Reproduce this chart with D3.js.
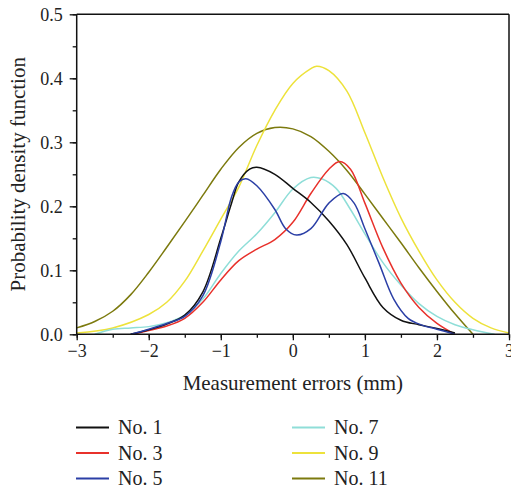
<!DOCTYPE html>
<html><head><meta charset="utf-8">
<script src="https://cdn.jsdelivr.net/npm/d3@7/dist/d3.min.js"></script>
<style>
html,body{margin:0;padding:0;background:#fff;}
svg{display:block;font-family:"Liberation Serif","Times New Roman",serif;}
</style></head>
<body>
<svg id="chart" width="511" height="490"></svg>
<script>
// ---- data ----
const seriesNames = ["No. 1", "No. 3", "No. 5", "No. 7", "No. 9", "No. 11"];
const seriesColors = ["#111111", "#e8312b", "#2b3fa6", "#8fded8", "#ede23b", "#7c7a0e"];

const no1X = [-2.25,-2.0,-1.75,-1.5,-1.25,-1.0,-0.85,-0.75,-0.6,-0.5,-0.25,0,0.25,0.5,0.75,1.0,1.25,1.5,1.75,2.0,2.25];
const no1Y = [0.0,0.007,0.016,0.03,0.066,0.15,0.205,0.238,0.258,0.261,0.25,0.228,0.206,0.177,0.14,0.088,0.042,0.022,0.015,0.009,0.002];

const no3X = [-2.22,-2.0,-1.75,-1.5,-1.25,-1.0,-0.75,-0.5,-0.25,0,0.25,0.5,0.65,0.8,1.0,1.25,1.5,1.75,2.0,2.25];
const no3Y = [0.0,0.006,0.013,0.025,0.05,0.085,0.115,0.133,0.148,0.175,0.22,0.258,0.27,0.258,0.205,0.135,0.08,0.042,0.017,0.0];

const no5X = [-2.25,-2.0,-1.75,-1.5,-1.25,-1.0,-0.85,-0.75,-0.65,-0.5,-0.25,-0.1,0.05,0.25,0.5,0.7,0.85,1.0,1.2,1.4,1.6,1.8,2.0,2.25];
const no5Y = [0.0,0.008,0.017,0.028,0.06,0.145,0.215,0.238,0.243,0.232,0.195,0.165,0.155,0.165,0.205,0.22,0.205,0.165,0.11,0.055,0.025,0.014,0.008,0.0];

const no7X = [-2.75,-2.5,-2.25,-2.0,-1.75,-1.5,-1.25,-1.0,-0.75,-0.5,-0.25,0,0.25,0.4,0.6,0.8,1.0,1.25,1.5,1.75,2.0,2.25,2.5,2.8];
const no7Y = [0.0,0.008,0.01,0.012,0.018,0.03,0.055,0.095,0.13,0.157,0.19,0.227,0.245,0.243,0.228,0.195,0.157,0.112,0.077,0.048,0.028,0.015,0.007,0.0];

const no9X = [-3.0,-2.5,-2.0,-1.75,-1.5,-1.25,-1.0,-0.75,-0.5,-0.25,0,0.25,0.33,0.5,0.75,1.0,1.25,1.5,1.75,2.0,2.25,2.5,2.75,3.0];
const no9Y = [0.002,0.01,0.031,0.05,0.083,0.13,0.18,0.23,0.295,0.35,0.392,0.415,0.419,0.412,0.38,0.315,0.245,0.182,0.13,0.085,0.05,0.025,0.01,0.002];

const no11X = [-3.0,-2.75,-2.5,-2.25,-2.0,-1.75,-1.5,-1.25,-1.0,-0.75,-0.5,-0.25,0,0.25,0.5,0.75,1.0,1.25,1.5,1.75,2.0,2.25,2.5];
const no11Y = [0.010,0.02,0.036,0.062,0.097,0.136,0.176,0.217,0.258,0.292,0.314,0.323,0.321,0.309,0.286,0.256,0.219,0.181,0.143,0.104,0.067,0.032,0.0];

const xTicks = [-3,-2,-1,0,1,2,3];
const yTicks = [0.0,0.1,0.2,0.3,0.4,0.5];
const xTitle = "Measurement errors (mm)";
const yTitle = "Probability density function";

// ---- layout ----
const svg = d3.select("#chart");
const L = 76.7, R = 509, T = 14.3, B = 334.3;
const x = d3.scaleLinear().domain([-3,3]).range([L,R]);
const y = d3.scaleLinear().domain([0,0.5]).range([B,T]);

const seriesX = [no1X,no3X,no5X,no7X,no9X,no11X];
const seriesY = [no1Y,no3Y,no5Y,no7Y,no9Y,no11Y];
const series = seriesNames.map((n,i)=>({name:n,color:seriesColors[i],
  pts: seriesX[i].map((v,j)=>[v, seriesY[i][j]])}));

const line = d3.line().x(d=>x(d[0])).y(d=>Math.min(y(d[1]), B)).curve(d3.curveCatmullRom.alpha(0.5));

svg.append("defs").append("clipPath").attr("id","plotclip")
  .append("rect").attr("x",L).attr("y",T).attr("width",R-L).attr("height",B-T+0.5);

// draw order: olive, yellow, cyan, red, black, blue
const order = [5,4,3,1,0,2];
svg.append("g").attr("clip-path","url(#plotclip)").selectAll("path").data(order.map(i=>series[i])).join("path")
  .attr("d", d=>line(d.pts)).attr("fill","none")
  .attr("stroke", d=>d.color).attr("stroke-width",1.5);

const fmtX = d => d < 0 ? "\u2212" + Math.abs(d) : String(d);

// x axis
const gx = svg.append("g").attr("transform",`translate(0,${B})`)
  .call(d3.axisBottom(x).tickValues(d3.range(-3,3.01,0.5)).tickSize(3.5).tickFormat(""));
gx.append("g").call(d3.axisBottom(x).tickValues(xTicks).tickSize(6).tickPadding(4).tickFormat(fmtX));
// y axis
const gy = svg.append("g").attr("transform",`translate(${L},0)`)
  .call(d3.axisLeft(y).tickValues(d3.range(0,0.501,0.05)).tickSize(4).tickFormat(""));
gy.append("g").call(d3.axisLeft(y).tickValues(yTicks).tickSize(7).tickPadding(7).tickFormat(d3.format(".1f")));

svg.selectAll(".domain").remove();
svg.selectAll(".tick line").attr("stroke","#111").attr("stroke-width",1.3);
svg.selectAll(".tick text").attr("font-family","Liberation Serif, serif").attr("font-size",18).attr("fill","#222");
gx.selectAll(".tick text").attr("dy","0.71em");

// frame
const frame = svg.append("g").attr("stroke","#111").attr("stroke-width",1.5).attr("fill","none");
frame.append("line").attr("x1",L).attr("x2",L).attr("y1",T).attr("y2",B);
frame.append("line").attr("x1",L).attr("x2",R).attr("y1",B).attr("y2",B);
frame.append("line").attr("x1",L).attr("x2",R).attr("y1",T).attr("y2",T);
frame.append("line").attr("x1",R).attr("x2",R).attr("y1",T).attr("y2",B);

// titles
svg.append("text").attr("x",(L+R)/2).attr("y",390).attr("text-anchor","middle")
  .attr("font-size",21).attr("fill","#222").text(xTitle);
svg.append("text").attr("transform",`translate(25,${(T+B)/2}) rotate(-90)`).attr("text-anchor","middle")
  .attr("font-size",21).attr("fill","#222").text(yTitle);

// legend
const lg = svg.append("g");
series.forEach((s,i)=>{
  const col = Math.floor(i/3), row = i%3;
  const lx = col===0 ? 76 : 292;
  const ly = 427.5 + row*25.5;
  lg.append("line").attr("x1",lx).attr("x2",lx+33).attr("y1",ly).attr("y2",ly)
    .attr("stroke",s.color).attr("stroke-width",2);
  lg.append("text").attr("x",lx+42).attr("y",ly+6.5).attr("font-size",20).attr("fill","#222").text(s.name);
});
</script>
</body></html>
